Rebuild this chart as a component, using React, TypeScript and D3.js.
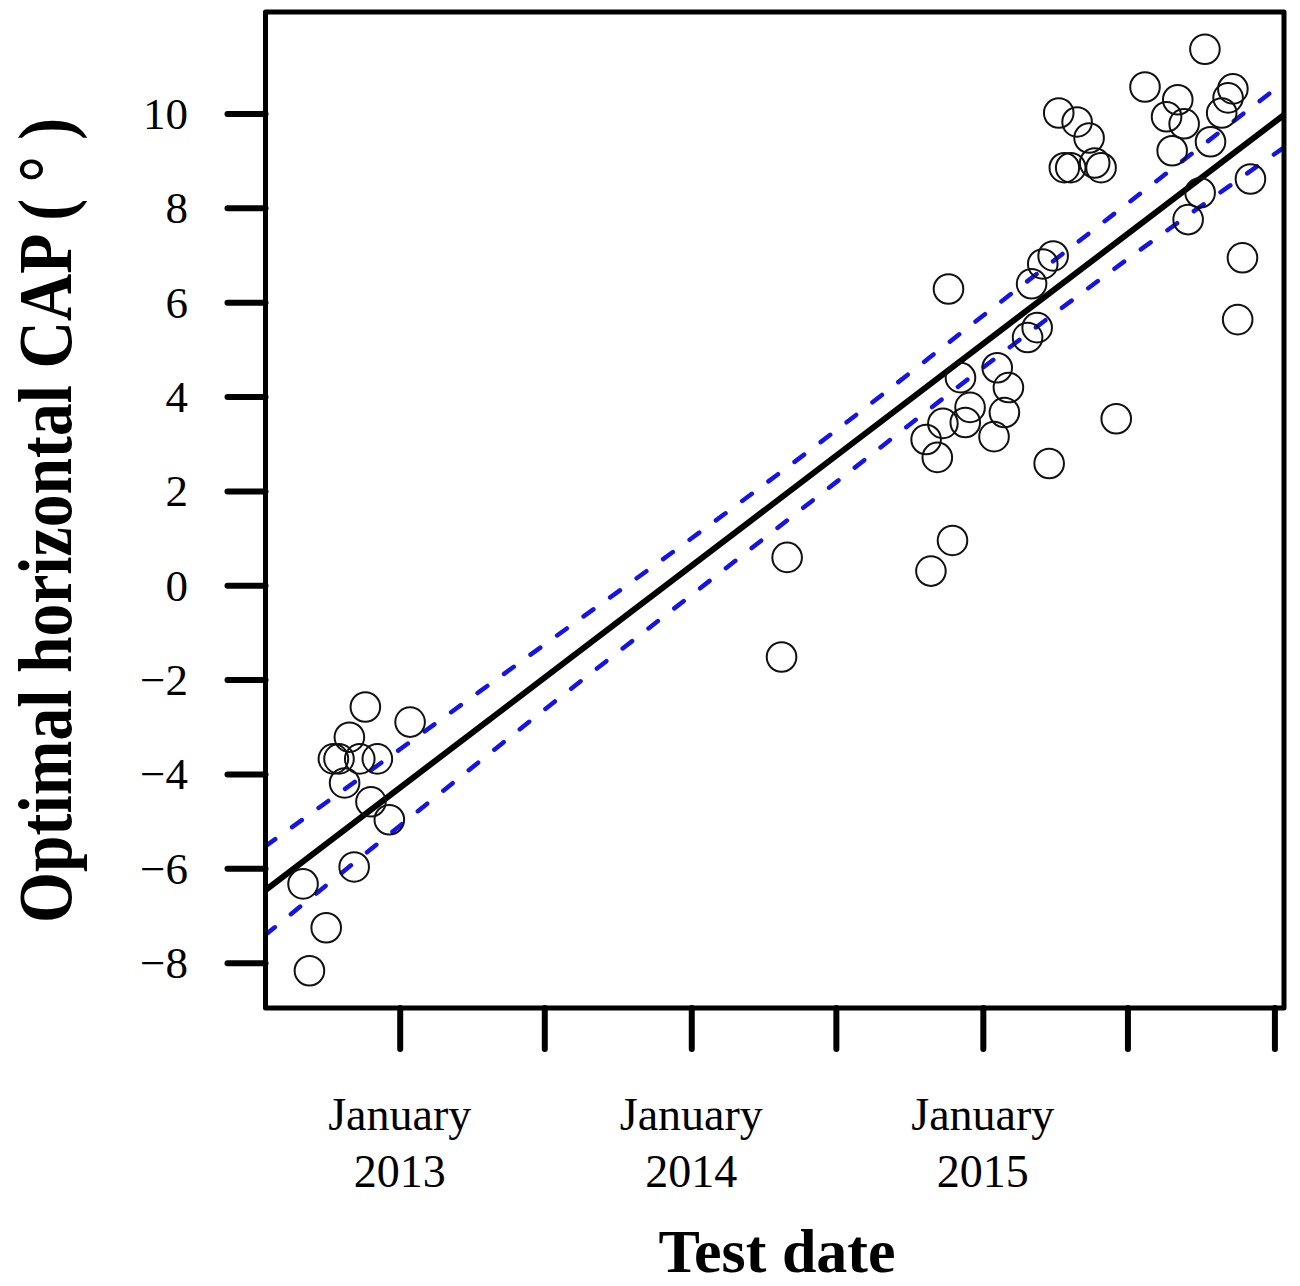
import * as React from 'react';
import { useEffect, useRef } from 'react';
import * as d3 from 'd3';

// Observations (test date, optimal horizontal CAP in degrees)
const testDates = [
  '2012-09-02', '2012-09-10', '2012-10-01', '2012-10-10', '2012-10-17', '2012-10-24',
  '2012-10-30', '2012-11-05', '2012-11-12', '2012-11-19', '2012-11-26', '2012-12-04',
  '2012-12-19', '2013-01-14', '2014-04-24', '2014-05-01', '2014-10-22', '2014-10-28',
  '2014-11-05', '2014-11-12', '2014-11-19', '2014-11-24', '2014-12-04', '2014-12-10',
  '2014-12-16', '2015-01-15', '2015-01-19', '2015-01-28', '2015-02-02', '2015-02-26',
  '2015-03-03', '2015-03-10', '2015-03-17', '2015-03-25', '2015-03-30', '2015-04-06',
  '2015-04-13', '2015-04-21', '2015-04-29', '2015-05-14', '2015-05-21', '2015-05-29',
  '2015-06-17', '2015-07-23', '2015-08-19', '2015-08-26', '2015-09-02', '2015-09-10',
  '2015-09-15', '2015-09-30', '2015-10-06', '2015-10-13', '2015-10-27', '2015-11-04',
  '2015-11-10', '2015-11-16', '2015-11-22', '2015-12-02',
];
const capValues = [
  -6.33, -8.17, -7.26, -3.68, -3.68, -4.19,
  -3.22, -5.97, -3.68, -2.58, -4.59, -3.68,
  -4.97, -2.9, -1.52, 0.59, 3.09, 0.3,
  2.71, 3.43, 6.28, 0.95, 4.4, 3.45,
  3.77, 3.15, 4.61, 3.66, 4.19, 5.25,
  6.39, 5.46, 6.81, 2.58, 6.98, 10.01,
  8.85, 8.85, 9.82, 9.48, 8.95, 8.85,
  3.53, 10.56, 9.93, 9.21, 10.29, 9.78,
  7.75, 8.32, 11.36, 9.4, 10.01, 10.33,
  10.52, 5.63, 6.94, 8.61,
];

// Fitted line and its confidence band, read at the plot edges and the ticks
const fitDates = ['2012-07-17', '2016-01-13'];
const fitValues = [-6.46, 9.97];
const bandDates = ['2012-07-17', '2013-01-01', '2013-07-01', '2014-01-01', '2014-07-01', '2015-01-01', '2015-07-01', '2016-01-13'];
const bandUpper = [-5.53, -3.48, -1.26, 0.99, 3.28, 5.71, 8.09, 10.66];
const bandLower = [-7.41, -5.1, -2.64, -0.21, 2.18, 4.61, 6.91, 9.28];

// Axes
const xDomain = ['2012-07-17', '2016-01-13'];
const xTicks = ['2013-01-01', '2013-07-01', '2014-01-01', '2014-07-01', '2015-01-01', '2015-07-01', '2016-01-01'];
const xTickLabels = ['January\n2013', '', 'January\n2014', '', 'January\n2015', '', ''];
const yTicks = [-8, -6, -4, -2, 0, 2, 4, 6, 8, 10];
const yDomain = [-8.96, 12.15];

const parse = d3.utcParse('%Y-%m-%d');

const App: React.FC = () => {
  const svgRef = useRef<SVGSVGElement>(null);
  const width = 1300;
  const height = 1286;

  useEffect(() => {
    const svg = d3.select(svgRef.current);
    svg.selectAll('*').remove();

    const box = { left: 265.5, right: 1284, top: 12, bottom: 1008 };

    const x = d3.scaleUtc()
      .domain(xDomain.map(d => parse(d) as Date))
      .range([box.left, box.right]);
    const y = d3.scaleLinear().domain(yDomain).range([box.bottom, box.top]);

    const serif = '"Liberation Serif", "Times New Roman", serif';

    svg.append('defs').append('clipPath').attr('id', 'plotclip')
      .append('rect')
      .attr('x', box.left).attr('y', box.top)
      .attr('width', box.right - box.left).attr('height', box.bottom - box.top);

    const plot = svg.append('g').attr('clip-path', 'url(#plotclip)');

    // regression line
    const fitLine = d3.line<number>()
      .x((_, i) => x(parse(fitDates[i]) as Date))
      .y(d => y(d));
    plot.append('path')
      .datum(fitValues)
      .attr('fill', 'none')
      .attr('stroke', '#000')
      .attr('stroke-width', 6)
      .attr('d', fitLine);

    // confidence band
    const bandLine = d3.line<number>()
      .x((_, i) => x(parse(bandDates[i]) as Date))
      .y(d => y(d))
      .curve(d3.curveMonotoneX);
    [bandUpper, bandLower].forEach(b => {
      plot.append('path')
        .datum(b)
        .attr('fill', 'none')
        .attr('stroke', '#1414e6')
        .attr('stroke-width', 4.5)
        .attr('stroke-linecap', 'round')
        .attr('stroke-dasharray', '12 20.7')
        .attr('d', bandLine);
    });

    // points
    plot.append('g')
      .selectAll('circle')
      .data(capValues)
      .enter().append('circle')
      .attr('cx', (_, i) => x(parse(testDates[i]) as Date))
      .attr('cy', d => y(d))
      .attr('r', 14.8)
      .attr('fill', 'none')
      .attr('stroke', '#111')
      .attr('stroke-width', 2);

    // frame
    svg.append('rect')
      .attr('x', box.left).attr('y', box.top)
      .attr('width', box.right - box.left).attr('height', box.bottom - box.top)
      .attr('fill', 'none')
      .attr('stroke', '#000')
      .attr('stroke-width', 5)
      .attr('stroke-linejoin', 'round');

    // y axis
    const yAxis = svg.append('g')
      .attr('transform', `translate(${box.left},0)`)
      .call(d3.axisLeft(y).tickValues(yTicks).tickSize(38).tickPadding(0)
        .tickFormat(d => (+d < 0 ? '\u2212' + Math.abs(+d) : String(d))));
    yAxis.select('.domain').remove();
    yAxis.selectAll('.tick line')
      .attr('stroke', '#000').attr('stroke-width', 6).attr('stroke-linecap', 'round');
    yAxis.selectAll('.tick text')
      .attr('x', 188 - box.left)
      .attr('dy', null)
      .attr('y', 15)
      .attr('fill', '#000')
      .attr('font-family', serif)
      .attr('font-size', 45)
      .attr('text-anchor', 'end');

    // x axis
    const xAxis = svg.append('g')
      .attr('transform', `translate(0,${box.bottom})`)
      .call(d3.axisBottom(x).tickValues(xTicks.map(d => parse(d) as Date)).tickSize(41).tickFormat(() => ''));
    xAxis.select('.domain').remove();
    xAxis.selectAll('.tick line')
      .attr('stroke', '#000').attr('stroke-width', 6).attr('stroke-linecap', 'round');
    xAxis.selectAll('.tick text').remove();

    const xLab = svg.append('g')
      .selectAll('text')
      .data(xTickLabels.map((t, i) => ({ t, d: xTicks[i] })).filter(o => o.t))
      .enter().append('text')
      .attr('x', o => x(parse(o.d) as Date))
      .attr('y', 1130)
      .attr('text-anchor', 'middle')
      .attr('font-family', serif)
      .attr('font-size', 46)
      .attr('fill', '#000');
    xLab.each(function (o) {
      const lines = o.t.split('\n');
      d3.select(this).selectAll('tspan')
        .data(lines)
        .enter().append('tspan')
        .attr('x', x(parse(o.d) as Date))
        .attr('dy', (_, i) => (i === 0 ? 0 : 57))
        .text(l => l);
    });

    // axis titles
    svg.append('text')
      .attr('x', 777)
      .attr('y', 1272)
      .attr('text-anchor', 'middle')
      .attr('font-family', serif)
      .attr('font-weight', 'bold')
      .attr('font-size', 62)
      .attr('fill', '#000')
      .text('Test date');

    svg.append('text')
      .attr('transform', 'translate(70.5,520.5) rotate(-90) scale(1,1.04)')
      .attr('text-anchor', 'middle')
      .attr('font-family', serif)
      .attr('font-weight', 'bold')
      .attr('font-size', 74)
      .attr('textLength', 805)
      .attr('lengthAdjust', 'spacingAndGlyphs')
      .attr('fill', '#000')
      .text('Optimal horizontal CAP ( \u00B0 )');
  }, []);

  return (
    <svg
      ref={svgRef}
      width={width}
      height={height}
      style={{ position: 'absolute', left: 0, top: 0, background: '#fff' }}
    ></svg>
  );
};

export default App;
